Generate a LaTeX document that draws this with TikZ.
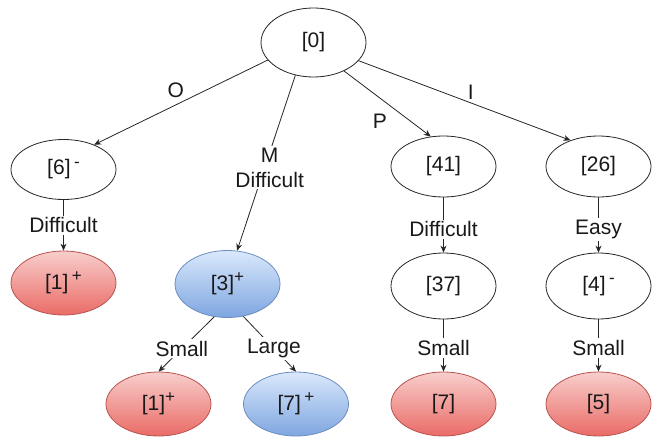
\documentclass[tikz,border=0pt]{standalone}
\usepackage{fontspec}
\setmainfont{Liberation Sans}
\usetikzlibrary{shapes.geometric,arrows.meta}
\definecolor{redtop}{HTML}{F8CECC}
\definecolor{redbot}{HTML}{EA6B66}
\definecolor{redline}{HTML}{B85450}
\definecolor{bluetop}{HTML}{DAE8FC}
\definecolor{bluebot}{HTML}{7EA6E0}
\definecolor{blueline}{HTML}{6C8EBF}
\newcommand{\mysup}[1]{\raisebox{7.5pt}{\fontsize{17}{17}\selectfont #1}}
\tikzset{
  txt/.style={font=\fontsize{21}{25}\selectfont, text=black!90},
  base/.style={ellipse, line width=0.8pt, minimum width=105pt, inner sep=0pt, txt},
  plainn/.style={base, draw=black!85, fill=white},
  redn/.style={base, draw=redline, top color=redtop, bottom color=redbot},
  bluen/.style={base, draw=blueline, top color=bluetop, bottom color=bluebot},
  conn/.style={draw=black!85, line width=0.8pt, -{Stealth[length=7pt,width=6pt]}},
  lab/.style={txt, fill=white, inner sep=2pt, align=center},
  freelab/.style={txt, inner sep=0pt},
}
\begin{document}
\begin{tikzpicture}[x=1pt,y=-1pt]
\useasboundingbox (0,0) rectangle (652,436);
% nodes
\node[plainn, minimum height=69pt] (n0) at (313.5,42.5) {[0]};
\node[plainn, minimum height=60pt] (n6) at (63.5,169.5) {[6]\,\mysup{-}};
\node[plainn, minimum height=61pt] (n41) at (443.5,166.5) {[41]};
\node[plainn, minimum height=61pt] (n26) at (598.5,166.5) {[26]};
\node[redn, minimum height=64pt] (n1a) at (63.5,283) {[1]\,\mysup{+}};
\node[bluen, minimum height=67pt] (n3) at (227.5,284) {[3]\mysup{+}};
\node[plainn, minimum height=66pt] (n37) at (443.5,286) {[37]};
\node[plainn, minimum height=66pt] (n4) at (598.5,286) {[4]\,\mysup{-}};
\node[redn, minimum height=64pt] (n1b) at (158.5,404) {[1]\mysup{+}};
\node[bluen, minimum height=64pt] (n7p) at (296,404) {[7]\,\mysup{+}};
\node[redn, minimum height=64pt] (n7) at (443.5,404) {[7]};
\node[redn, minimum height=64pt] (n5) at (598.5,404) {[5]};
% connectors
\draw[conn] (n0.201.7) -- node[freelab, pos=0.53, yshift=15pt] (lO) {O} (n6.39);
\draw[conn] (n0.241.8) -- node[lab, pos=0.526, xshift=5pt] (lM) {M\\Difficult} (n3.74);
\draw[conn] (n0.-43) -- node[freelab, pos=0.5, xshift=-7.5pt, yshift=-18pt] (lP) {P} (n41.113.5);
\draw[conn] (n0.-22.4) -- node[freelab, pos=0.53, yshift=11pt] (lI) {I} (n26.137);
\draw[conn] (n6.south) -- node[lab] (l1) {Difficult} (n1a.north);
\draw[conn] (n3.248) -- node[lab, pos=0.58] (l2) {Small} (n1b.north);
\draw[conn] (n3.-64) -- node[lab, pos=0.58] (l3) {Large} (n7p.north);
\draw[conn] (n41.south) -- node[lab, pos=0.58] (l4) {Difficult} (n37.north);
\draw[conn] (n37.south) -- node[lab, pos=0.55] (l5) {Small} (n7.north);
\draw[conn] (n26.south) -- node[lab, pos=0.58] (l6) {Easy} (n4.north);
\draw[conn] (n4.south) -- node[lab, pos=0.55] (l7) {Small} (n5.north);
\end{tikzpicture}
\end{document}
